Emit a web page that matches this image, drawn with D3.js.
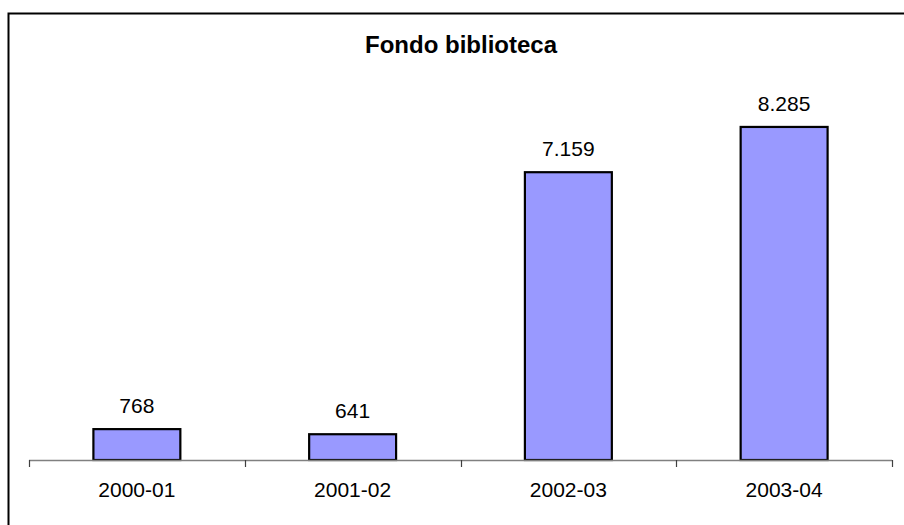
<!DOCTYPE html>
<html>
<head>
<meta charset="utf-8">
<script src="https://cdn.jsdelivr.net/npm/d3@7"></script>
<style>
  html, body { margin: 0; padding: 0; background: #fff; }
  svg { display: block; }
  text { font-family: Arial, "Liberation Sans", sans-serif; fill: #000; }
</style>
</head>
<body>
<svg id="chart" width="904" height="525"></svg>
<script>
const title = "Fondo biblioteca";
const categories = ["2000-01", "2001-02", "2002-03", "2003-04"];
const values = [768, 641, 7159, 8285];
const valueLabels = ["768", "641", "7.159", "8.285"];
const yDomain = [0, 10000];

const svg = d3.select("#chart");
const plot = { left: 29, right: 892, top: 58, bottom: 460 };

// frame
svg.append("rect")
  .attr("x", 8.5).attr("y", 13.5)
  .attr("width", 920).attr("height", 540)
  .attr("fill", "#fff").attr("stroke", "#000").attr("stroke-width", 2);

const x = d3.scaleBand()
  .domain(categories)
  .range([plot.left, plot.right])
  .paddingInner(0.597)
  .paddingOuter(0.2985);

const y = d3.scaleLinear().domain(yDomain).range([plot.bottom, plot.top]);

// title
svg.append("text")
  .attr("x", 461).attr("y", 53)
  .attr("text-anchor", "middle")
  .style("font-size", "24px").style("font-weight", "bold")
  .text(title);

// bars
svg.selectAll("rect.bar").data(values).enter().append("rect")
  .attr("class", "bar")
  .attr("x", (d, i) => x(categories[i]))
  .attr("y", d => y(d))
  .attr("width", x.bandwidth())
  .attr("height", d => y(0) - y(d))
  .attr("fill", "#9999FF")
  .attr("stroke", "#000")
  .attr("stroke-width", 2.2);

// value labels
svg.selectAll("text.val").data(values).enter().append("text")
  .attr("class", "val")
  .attr("x", (d, i) => x(categories[i]) + x.bandwidth() / 2)
  .attr("y", d => y(d) - 16)
  .attr("text-anchor", "middle")
  .style("font-size", "21px")
  .text((d, i) => valueLabels[i]);

// x axis
const axisG = svg.append("g").attr("transform", `translate(0,${plot.bottom})`);
axisG.append("line")
  .attr("x1", plot.left).attr("x2", plot.right)
  .attr("y1", 0.5).attr("y2", 0.5)
  .attr("stroke", "#808080").attr("stroke-width", 1.5);
const edges = d3.range(categories.length + 1).map(i => plot.left + i * x.step());
axisG.selectAll("line.tick").data(edges).enter().append("line")
  .attr("class", "tick")
  .attr("x1", d => Math.round(d) + 0.5).attr("x2", d => Math.round(d) + 0.5)
  .attr("y1", 0).attr("y2", 7)
  .attr("stroke", "#404040").attr("stroke-width", 1.2);
axisG.selectAll("text.cat").data(categories).enter().append("text")
  .attr("class", "cat")
  .attr("x", d => x(d) + x.bandwidth() / 2)
  .attr("y", 37)
  .attr("text-anchor", "middle")
  .style("font-size", "21px")
  .text(d => d);
</script>
</body>
</html>
